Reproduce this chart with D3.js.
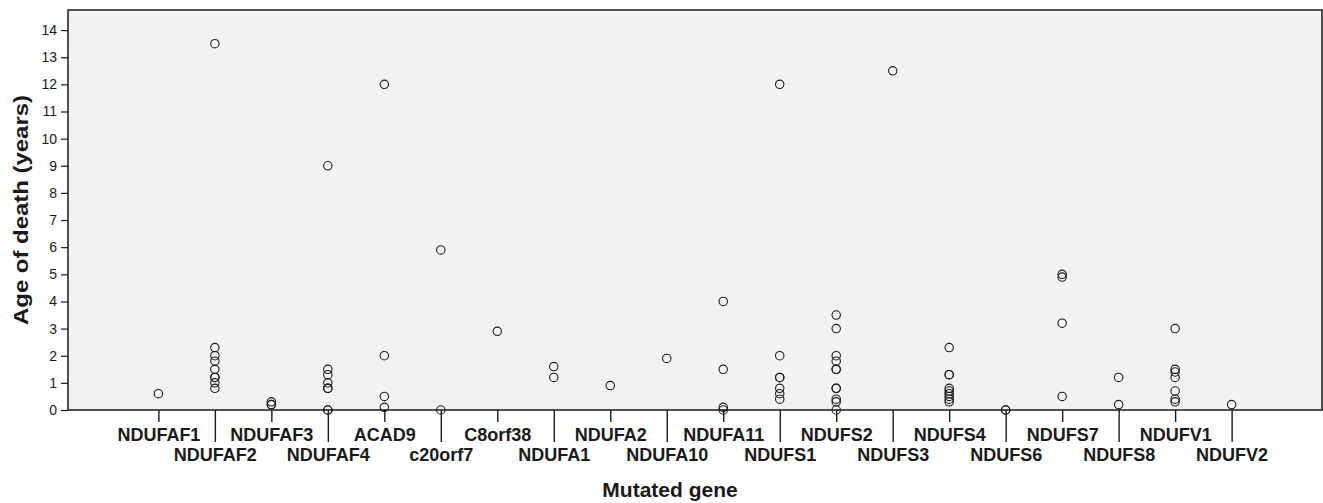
<!DOCTYPE html>
<html>
<head>
<meta charset="utf-8">
<script src="https://cdn.jsdelivr.net/npm/d3@7"></script>
<style>
  body { margin: 0; background: #fff; }
  text { font-family: "Liberation Sans", Arial, sans-serif; fill: #1a1a1a; }
</style>
</head>
<body>
<svg id="chart" width="1323" height="503"></svg>
<script>
// genes along the x axis, in plot order
const genes = ['NDUFAF1', 'NDUFAF2', 'NDUFAF3', 'NDUFAF4', 'ACAD9', 'c20orf7', 'C8orf38',
  'NDUFA1', 'NDUFA2', 'NDUFA10', 'NDUFA11', 'NDUFS1', 'NDUFS2', 'NDUFS3', 'NDUFS4',
  'NDUFS6', 'NDUFS7', 'NDUFS8', 'NDUFV1', 'NDUFV2'];

// age of death (years) per patient, one list per gene (same order as genes)
const ages = [
  [0.6],
  [13.5, 2.3, 2.0, 1.8, 1.5, 1.2, 1.2, 1.0, 0.8],
  [0.3, 0.2, 0.2],
  [9, 1.5, 1.3, 1.0, 0.8, 0.8, 0, 0],
  [12, 2, 0.5, 0.1],
  [5.9, 0],
  [2.9],
  [1.6, 1.2],
  [0.9],
  [1.9],
  [4, 1.5, 0.1, 0],
  [12, 2, 1.2, 1.2, 0.8, 0.6, 0.4],
  [3.5, 3.0, 2.0, 1.8, 1.5, 1.5, 0.8, 0.8, 0.4, 0.3, 0],
  [12.5],
  [2.3, 1.3, 1.3, 0.8, 0.7, 0.6, 0.5, 0.4, 0.3],
  [0, 0],
  [5.0, 4.9, 3.2, 0.5],
  [1.2, 0.2],
  [3.0, 1.5, 1.4, 1.2, 0.7, 0.4, 0.3],
  [0.2]
];

const yTicks = d3.range(0, 15);

const margin = { top: 10, right: 1, bottom: 93, left: 68 };
const width = 1323, height = 503;

const svg = d3.select('#chart');

const x = d3.scalePoint()
  .domain(genes)
  .range([margin.left, width - margin.right])
  .padding(1.6);

const y = d3.scaleLinear()
  .domain([0, 14.74])
  .range([height - margin.bottom, margin.top]);

// plot background
svg.append('rect')
  .attr('x', margin.left)
  .attr('y', margin.top)
  .attr('width', width - margin.right - margin.left)
  .attr('height', height - margin.bottom - margin.top)
  .attr('fill', '#f2f2f2');

// y axis
const yAxis = svg.append('g')
  .attr('transform', `translate(${margin.left},0)`)
  .call(d3.axisLeft(y).tickValues(yTicks).tickSize(7).tickPadding(4).tickFormat(d3.format('d')));

yAxis.select('.domain').remove();
yAxis.selectAll('line').attr('stroke', '#1a1a1a').attr('stroke-width', 1.2);
yAxis.selectAll('text')
  .attr('font-size', 14)
  .attr('font-family', '"Liberation Sans", Arial, sans-serif')
  .attr('fill', '#1a1a1a');

// x axis, labels staggered on two rows
const xAxis = svg.append('g')
  .attr('transform', `translate(0,${height - margin.bottom})`)
  .call(d3.axisBottom(x).tickSize(0).tickFormat(''));

xAxis.select('.domain').remove();

xAxis.selectAll('.tick line')
  .attr('y2', (d, i) => i % 2 ? 32 : 12)
  .attr('stroke', '#1a1a1a')
  .attr('stroke-width', 1.4);

xAxis.selectAll('.tick text')
  .text(d => d)
  .attr('y', (d, i) => i % 2 ? 51 : 31)
  .attr('dy', null)
  .attr('font-size', 18)
  .attr('font-weight', 'bold')
  .attr('font-family', '"Liberation Sans", Arial, sans-serif')
  .attr('fill', '#1a1a1a');

// plot frame
svg.append('rect')
  .attr('x', margin.left)
  .attr('y', margin.top)
  .attr('width', width - margin.right - margin.left)
  .attr('height', height - margin.bottom - margin.top)
  .attr('fill', 'none')
  .attr('stroke', '#1a1a1a')
  .attr('stroke-width', 1.5);

// points
const points = genes.flatMap((g, i) => ages[i].map(v => ({ gene: g, age: v })));

svg.append('g')
  .selectAll('circle')
  .data(points)
  .enter()
  .append('circle')
  .attr('cx', d => x(d.gene))
  .attr('cy', d => y(d.age))
  .attr('r', 4.2)
  .attr('fill', 'none')
  .attr('stroke', '#1a1a1a')
  .attr('stroke-width', 1.1);

// axis titles
svg.append('text')
  .attr('x', 670)
  .attr('y', 497)
  .attr('text-anchor', 'middle')
  .attr('font-size', 21)
  .attr('font-weight', 'bold')
  .text('Mutated gene');

svg.append('text')
  .attr('transform', `translate(28,${(margin.top + height - margin.bottom) / 2}) rotate(-90)`)
  .attr('text-anchor', 'middle')
  .attr('font-size', 21)
  .attr('font-weight', 'bold')
  .attr('textLength', 230)
  .attr('lengthAdjust', 'spacingAndGlyphs')
  .text('Age of death (years)');
</script>
</body>
</html>
